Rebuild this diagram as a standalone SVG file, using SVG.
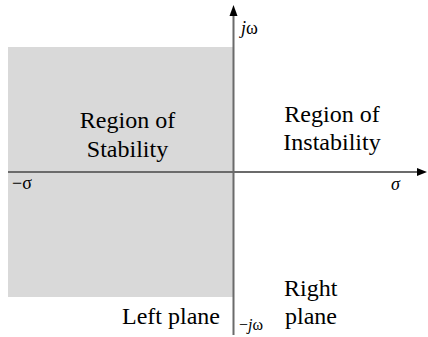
<svg xmlns="http://www.w3.org/2000/svg" width="428" height="337" viewBox="0 0 428 337">
<g id="region-stability">
<rect x="8" y="47" width="225" height="250" fill="#d9d9d9"/>
<text font-family="Liberation Serif, Times New Roman, serif" font-size="24" x="127.5" y="128" text-anchor="middle">Region of</text>
<text font-family="Liberation Serif, Times New Roman, serif" font-size="24" x="127.5" y="157" text-anchor="middle">Stability</text>
</g>
<g id="region-instability">
<text font-family="Liberation Serif, Times New Roman, serif" font-size="24" x="332" y="122" text-anchor="middle">Region of</text>
<text font-family="Liberation Serif, Times New Roman, serif" font-size="24" x="332" y="150" text-anchor="middle">Instability</text>
</g>
<g id="connectors">
<line x1="8" y1="172" x2="419" y2="172" stroke="#6b6b6b" stroke-width="2"/>
<polygon points="427,172 417,168 417,176" fill="#000"/>
<line x1="233.5" y1="335" x2="233.5" y2="14" stroke="#6b6b6b" stroke-width="2"/>
<polygon points="233.5,5 229.5,16 237.5,16" fill="#000"/>
</g>
<g id="labels">
<text font-family="Liberation Serif, Times New Roman, serif" font-size="18" x="241" y="34"><tspan font-style="italic">j</tspan>ω</text>
<text font-family="Liberation Serif, Times New Roman, serif" font-size="18" x="12" y="189">−σ</text>
<text font-family="Liberation Serif, Times New Roman, serif" font-size="18" x="391" y="190" font-style="italic">σ</text>
<text font-family="Liberation Serif, Times New Roman, serif" font-size="24" x="220" y="324" text-anchor="end">Left plane</text>
<text font-family="Liberation Serif, Times New Roman, serif" font-size="24" x="284" y="296">Right</text>
<text font-family="Liberation Serif, Times New Roman, serif" font-size="24" x="285" y="324">plane</text>
<text font-family="Liberation Serif, Times New Roman, serif" font-size="16" x="239" y="330">−<tspan font-style="italic">j</tspan>ω</text>
</g>
</svg>
